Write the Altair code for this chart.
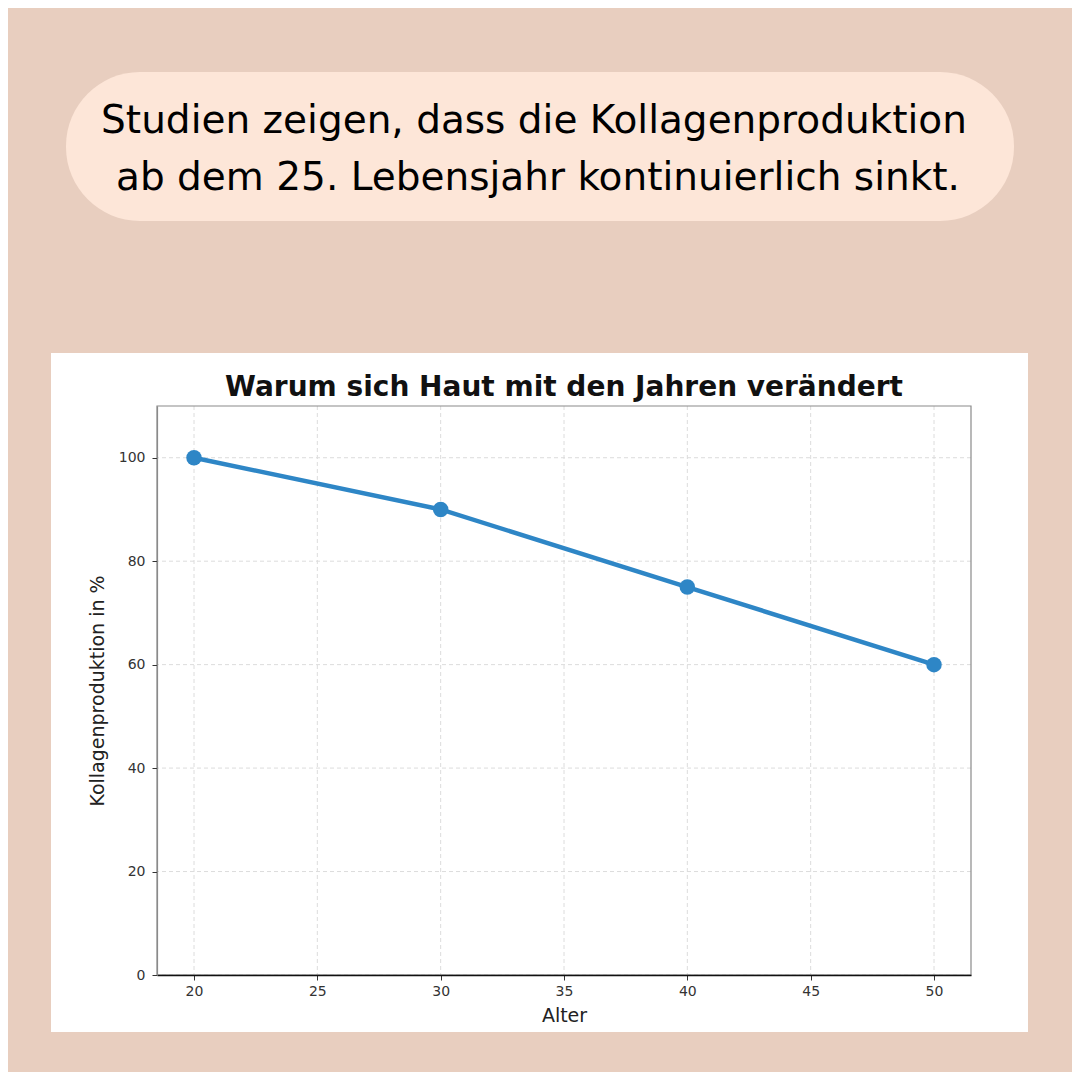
import altair as alt
import pandas as pd

# ---- data ----
ages = [20, 30, 40, 50]
collagen = [100, 90, 75, 60]
x_ticks = [20, 25, 30, 35, 40, 45, 50]
y_ticks = [0, 20, 40, 60, 80, 100]
headline_1 = "Studien zeigen, dass die Kollagenproduktion"
headline_2 = "ab dem 25. Lebensjahr kontinuierlich sinkt."
chart_title = "Warum sich Haut mit den Jahren verändert"
x_title = "Alter"
y_title = "Kollagenproduktion in %"

# ---- layout (plot area = 814 x 569, origin at page (157, 406)) ----
W, H = 814, 569
OX, OY = 157, 406
BG = "#E8CEBF"
PILL = "#FDE6D8"
BLUE = "#2E86C6"

df = pd.DataFrame({"Alter": ages, "Kollagen": collagen})
one = pd.DataFrame({"a": [0]})
xgrid = pd.DataFrame({"Alter": x_ticks})
ygrid = pd.DataFrame({"Kollagen": y_ticks})

xscale = alt.Scale(domain=[18.5, 51.5], nice=False, zero=False)
yscale = alt.Scale(domain=[0, 110], nice=False)

x_axis = alt.Axis(values=x_ticks, format="d", title=x_title, grid=False, zindex=1,
                  domainColor="#111111", domainWidth=1.6, tickColor="#333333", tickSize=5,
                  labelFont="DejaVu Sans", labelFontSize=14, labelColor="#333333", labelPadding=4,
                  titleFont="DejaVu Sans", titleFontSize=19, titleFontWeight="normal",
                  titleColor="#222222", titlePadding=8)
y_axis = alt.Axis(values=y_ticks, format="d", title=y_title, grid=False, zindex=1,
                  domainColor="#8a8a8a", domainWidth=1.2, tickColor="#333333", tickSize=5,
                  labelFont="DejaVu Sans", labelFontSize=14, labelColor="#333333", labelPadding=7,
                  titleFont="DejaVu Sans", titleFontSize=19, titleFontWeight="normal",
                  titleColor="#222222", titlePadding=11)

panel = alt.Chart(one).mark_rect(fill="white").encode(
    x=alt.value(51 - OX), x2=alt.value(1028 - OX),
    y=alt.value(353 - OY), y2=alt.value(1032 - OY))

pill = alt.Chart(one).mark_rect(fill=PILL, cornerRadius=74).encode(
    x=alt.value(66 - OX), x2=alt.value(1014 - OX),
    y=alt.value(72 - OY), y2=alt.value(221 - OY))

text_style = dict(font="DejaVu Sans", fontSize=39, color="#000000",
                  align="center", baseline="middle")
head1 = alt.Chart(one).mark_text(text=headline_1, **text_style).encode(
    x=alt.value(534 - OX), y=alt.value(121 - OY))
head2 = alt.Chart(one).mark_text(text=headline_2, **text_style).encode(
    x=alt.value(538 - OX), y=alt.value(178 - OY))

title = alt.Chart(one).mark_text(text=chart_title, font="DejaVu Sans", fontSize=28,
                                 fontWeight="bold", color="#111111", align="center",
                                 baseline="alphabetic").encode(
    x=alt.value(W / 2), y=alt.value(-10))

vgrid = alt.Chart(xgrid).mark_rule(color="#dcdcdc", strokeDash=[4, 3], strokeWidth=1).encode(
    x=alt.X("Alter:Q", scale=xscale, axis=x_axis))
hgrid = alt.Chart(ygrid).mark_rule(color="#dcdcdc", strokeDash=[4, 3], strokeWidth=1).encode(
    y=alt.Y("Kollagen:Q", scale=yscale, axis=y_axis))

border = alt.Chart(one).mark_rect(fillOpacity=0, stroke="#8a8a8a", strokeWidth=1.2).encode(
    x=alt.value(0), x2=alt.value(W), y=alt.value(0), y2=alt.value(H))

line = alt.Chart(df).mark_line(color=BLUE, strokeWidth=4.5).encode(
    x=alt.X("Alter:Q", scale=xscale, axis=x_axis),
    y=alt.Y("Kollagen:Q", scale=yscale, axis=y_axis))
points = alt.Chart(df).mark_circle(color=BLUE, size=240, opacity=1).encode(
    x=alt.X("Alter:Q", scale=xscale, axis=x_axis),
    y=alt.Y("Kollagen:Q", scale=yscale, axis=y_axis))

chart = alt.layer(panel, pill, head1, head2, title, vgrid, hgrid, border, line, points).properties(
    width=W, height=H,
    autosize=alt.AutoSizeParams(type="none"),
    padding={"left": OX - 8, "top": OY - 8, "right": 1064 - (OX - 8) - W, "bottom": 1064 - (OY - 8) - H},
).configure(background=BG).configure_view(stroke=None)

chart.save("out.html", embed_options={"renderer": "svg", "actions": False})
